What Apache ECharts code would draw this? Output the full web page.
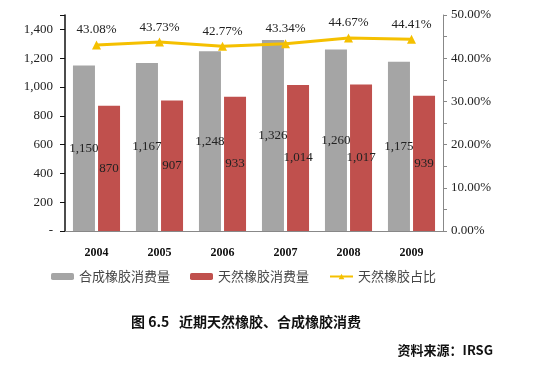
<!DOCTYPE html>
<html><head><meta charset="utf-8">
<script src="https://cdn.jsdelivr.net/npm/echarts@6/dist/echarts.min.js"></script>
<style>html,body{margin:0;padding:0;background:#fff}#c{width:548px;height:367px}</style>
</head><body><div id="c"></div>
<script>
const years = ['2004','2005','2006','2007','2008','2009'];
const synthetic = [1150,1167,1248,1326,1260,1175];
const natural = [870,907,933,1014,1017,939];
const naturalShare = [43.08,43.73,42.77,43.34,44.67,44.41];
const leftTicks = [0,200,400,600,800,1000,1200,1400];

const serif = '"Liberation Serif","DejaVu Serif",serif';
const cjk = '"Noto Sans CJK SC",sans-serif';
const fmt = v => v.toLocaleString('en-US');
const chart = echarts.init(document.getElementById('c'));
chart.setOption({
  animation:false,
  backgroundColor:'#fff',
  title:[
    {text:'图 6.5   近期天然橡胶、合成橡胶消费',left:241,top:310,textAlign:'center',
     textStyle:{fontFamily:cjk,fontSize:14,fontWeight:'bold',color:'#111'}},
    {text:'资料来源：IRSG',right:50,top:339,
     textStyle:{fontFamily:cjk,fontSize:13,fontWeight:'bold',color:'#111'}}
  ],
  legend:{
    top:265,left:46,itemWidth:23,itemHeight:7,itemGap:20,
    textStyle:{fontFamily:cjk,fontSize:13,color:'#444'},
    data:['合成橡胶消费量','天然橡胶消费量','天然橡胶占比']
  },
  grid:{left:65,right:105,top:15,bottom:136},
  xAxis:{type:'category',data:years,
    axisLine:{lineStyle:{color:'#888',width:1}},axisTick:{show:false},
    axisLabel:{margin:16,fontFamily:serif,fontSize:12,fontWeight:'bold',color:'#111'}},
  yAxis:[
    {type:'value',min:0,max:1500,interval:200,
     splitLine:{show:false},
     axisLine:{show:true,lineStyle:{color:'#111',width:1.5}},
     axisTick:{show:true,length:5,lineStyle:{color:'#111'}},
     axisLabel:{margin:12,fontFamily:serif,fontSize:13,color:'#222',
       formatter:v=>{ if(leftTicks.indexOf(v)<0) return ''; return v===0?'-':fmt(v);} }},
    {type:'value',min:0,max:50,interval:5,
     splitLine:{show:false},
     axisLine:{show:true,lineStyle:{color:'#888',width:1}},
     axisTick:{show:true,length:4,lineStyle:{color:'#888'}},
     axisLabel:{margin:8,fontFamily:serif,fontSize:13,color:'#222',
       formatter:v=> (v%10===0)? v.toFixed(2)+'%' : ''}}
  ],
  series:[
    {name:'合成橡胶消费量',type:'bar',data:synthetic,barWidth:22,barGap:'14%',
     itemStyle:{color:'#A5A5A5'},
     label:{show:true,position:'inside',fontFamily:serif,fontSize:13,color:'#222',formatter:p=>fmt(p.value)}},
    {name:'天然橡胶消费量',type:'bar',data:natural,barWidth:22,
     itemStyle:{color:'#C0504D'},
     label:{show:true,position:'inside',fontFamily:serif,fontSize:13,color:'#222',formatter:p=>fmt(p.value)}},
    {name:'天然橡胶占比',type:'line',yAxisIndex:1,data:naturalShare,
     symbol:'triangle',symbolSize:9,
     lineStyle:{color:'#F5C000',width:3},itemStyle:{color:'#F5C000'},
     label:{show:true,position:'top',distance:4,fontFamily:serif,fontSize:13,color:'#222',
       formatter:p=>p.value.toFixed(2)+'%'}}
  ]
});
</script></body></html>
